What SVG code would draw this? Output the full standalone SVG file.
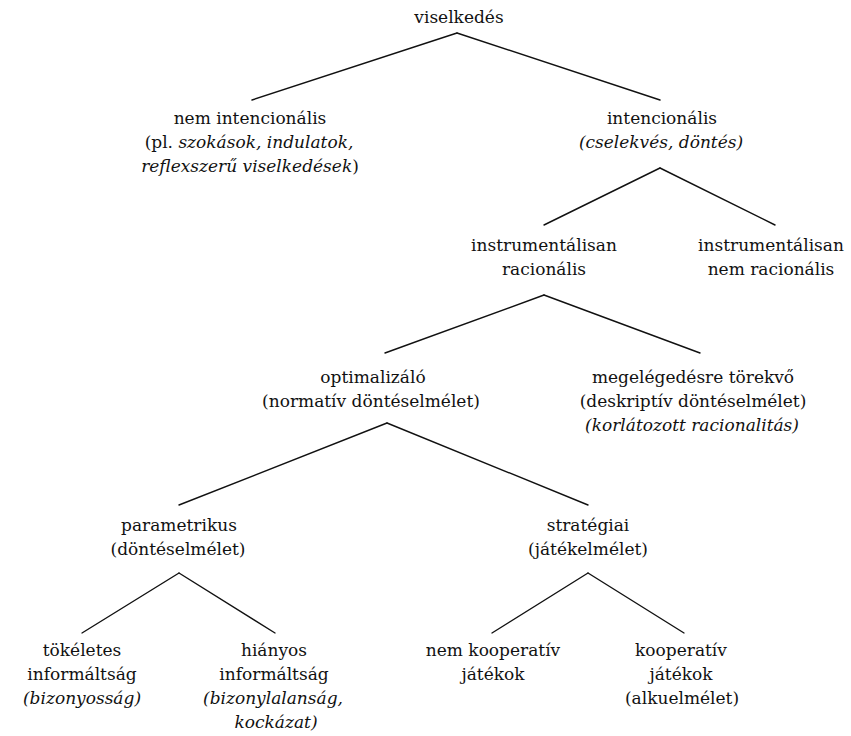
<svg xmlns="http://www.w3.org/2000/svg" width="851" height="736" viewBox="0 0 851 736">
<style>
text{font-family:"DejaVu Serif","Liberation Serif",serif;font-size:17px;fill:#111;text-anchor:middle}
.i{font-style:italic}
.c line{stroke:#111;stroke-width:1.4;stroke-linecap:round}
</style>
<rect width="851" height="736" fill="#fff"/>
<g class="c" id="connectors">
<line x1="457" y1="33" x2="252" y2="100"/>
<line x1="457" y1="33" x2="660" y2="100"/>
<line x1="660" y1="168" x2="544" y2="225"/>
<line x1="660" y1="168" x2="775" y2="225"/>
<line x1="544" y1="295" x2="385" y2="353"/>
<line x1="544" y1="295" x2="700" y2="353"/>
<line x1="387" y1="423" x2="179" y2="505"/>
<line x1="387" y1="423" x2="588" y2="505"/>
<line x1="179" y1="573" x2="82" y2="633"/>
<line x1="179" y1="573" x2="275" y2="633"/>
<line x1="588" y1="573" x2="492" y2="633"/>
<line x1="588" y1="573" x2="684" y2="633"/>
</g>
<g id="n-viselkedes"><text x="459" y="23">viselkedés</text></g>
<g id="n-nemintencionalis">
<text x="250" y="124">nem intencionális</text>
<text x="249" y="148">(pl. <tspan class="i">szokások, indulatok,</tspan></text>
<text x="250" y="172"><tspan class="i">reflexszerű viselkedések</tspan>)</text>
</g>
<g id="n-intencionalis">
<text x="662" y="124">intencionális</text>
<text x="661" y="148" class="i">(cselekvés, döntés)</text>
</g>
<g id="n-instr-rac">
<text x="544" y="251">instrumentálisan</text>
<text x="544" y="275">racionális</text>
</g>
<g id="n-instr-nemrac">
<text x="771" y="251">instrumentálisan</text>
<text x="771" y="275">nem racionális</text>
</g>
<g id="n-optimalizalo">
<text x="373" y="383">optimalizáló</text>
<text x="371" y="407">(normatív döntéselmélet)</text>
</g>
<g id="n-megelegedes">
<text x="693" y="383">megelégedésre törekvő</text>
<text x="693" y="407">(deskriptív döntéselmélet)</text>
<text x="692" y="431" class="i">(korlátozott racionalitás)</text>
</g>
<g id="n-parametrikus">
<text x="179" y="531">parametrikus</text>
<text x="178" y="555">(döntéselmélet)</text>
</g>
<g id="n-strategiai">
<text x="588" y="531">stratégiai</text>
<text x="588" y="555">(játékelmélet)</text>
</g>
<g id="n-tokeletes">
<text x="82" y="656">tökéletes</text>
<text x="82" y="680">informáltság</text>
<text x="82" y="704" class="i">(bizonyosság)</text>
</g>
<g id="n-hianyos">
<text x="274" y="656">hiányos</text>
<text x="274" y="680">informáltság</text>
<text x="273" y="704" class="i">(bizonylalanság,</text>
<text x="276" y="728" class="i">kockázat)</text>
</g>
<g id="n-nemkooperativ">
<text x="493" y="656">nem kooperatív</text>
<text x="493" y="680">játékok</text>
</g>
<g id="n-kooperativ">
<text x="681" y="656">kooperatív</text>
<text x="681" y="680">játékok</text>
<text x="682" y="704">(alkuelmélet)</text>
</g>
</svg>
